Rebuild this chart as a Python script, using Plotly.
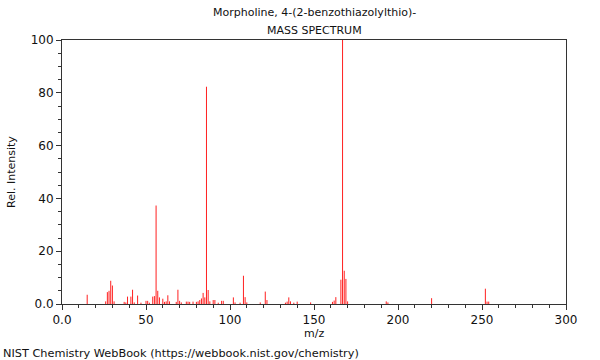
import plotly.graph_objects as go

# m/z values and relative intensities
mz = [15, 26, 27, 28, 29, 30, 31, 37, 38, 39, 41, 42, 43, 45, 47, 50, 51, 52,
      54, 55, 56, 57, 58, 60, 61, 62, 63, 64, 68, 69, 70, 71, 74, 75, 76, 78,
      80, 81, 82, 83, 84, 85, 86, 87, 88, 90, 91, 93, 95, 96, 102, 103, 106,
      108, 109, 110, 118, 121, 122, 133, 134, 135, 136, 138, 140, 148, 161,
      162, 163, 166, 167, 168, 169, 170, 193, 194, 220, 252, 253, 254]
intensity = [3.5, 1.0, 4.5, 5.0, 8.8, 7.0, 1.0, 0.8, 0.6, 2.8, 2.8, 5.4, 0.6,
             3.2, 0.5, 1.2, 1.2, 0.5, 2.8, 3.0, 37.3, 5.0, 2.5, 2.0, 0.8, 1.0,
             3.3, 1.0, 0.8, 5.4, 1.2, 0.6, 0.9, 0.9, 0.8, 0.9, 0.8, 1.0, 1.5,
             2.1, 4.2, 2.5, 82.3, 5.3, 1.0, 1.5, 1.5, 0.5, 1.2, 1.2, 2.5, 0.6,
             0.5, 10.7, 2.6, 0.6, 0.6, 4.7, 1.5, 0.5, 0.9, 2.5, 1.0, 0.5, 0.9,
             0.6, 0.8, 1.3, 2.6, 9.2, 100.0, 12.6, 9.5, 1.0, 1.0, 0.6, 2.2,
             5.8, 0.9, 0.9]

x_ticks = [0, 50, 100, 150, 200, 250, 300]
x_labels = ["0.0", "50", "100", "150", "200", "250", "300"]
y_ticks = [0, 20, 40, 60, 80, 100]
y_labels = ["0.0", "20", "40", "60", "80", "100"]

title_line1 = "Morpholine, 4-(2-benzothiazolylthio)-"
title_line2 = "MASS SPECTRUM"
footer = "NIST Chemistry WebBook (https://webbook.nist.gov/chemistry)"

# build stick segments
xs, ys = [], []
for m, v in zip(mz, intensity):
    xs += [m, m, None]
    ys += [0, v, None]

FONT = "DejaVu Sans, sans-serif"

fig = go.Figure()
fig.add_trace(go.Scatter(x=xs, y=ys, mode="lines",
                         line=dict(color="#ff2020", width=1),
                         hoverinfo="skip", showlegend=False))

axis_common = dict(showline=True, linecolor="#333333", linewidth=1, mirror=True,
                   ticks="outside", ticklen=5, tickcolor="#333333",
                   showgrid=False, zeroline=False,
                   tickfont=dict(family=FONT, size=12, color="#111111"))

fig.update_xaxes(range=[0, 300], tickvals=x_ticks, ticktext=x_labels,
                 minor=dict(dtick=10, ticks="outside", ticklen=3, tickcolor="#333333"),
                 **axis_common)
fig.update_yaxes(range=[0, 100], tickvals=y_ticks, ticktext=y_labels,
                 minor=dict(dtick=5, ticks="outside", ticklen=3, tickcolor="#333333"),
                 **axis_common)

L, R, T, B = 62, 34, 40, 56
fig.update_layout(
    width=600, height=360,
    margin=dict(l=L, r=R, t=T, b=B),
    paper_bgcolor="white", plot_bgcolor="white",
    font=dict(family=FONT, size=11, color="#111111"),
)

plot_h = 360 - T - B
plot_w = 600 - L - R
def py(pix):
    return (360 - B - pix) / plot_h
def px(pix):
    return (pix - L) / plot_w

fig.add_annotation(text=title_line1, x=0.5, xref="paper", y=py(13), yref="paper",
                   showarrow=False, xanchor="center", yanchor="middle")
fig.add_annotation(text=title_line2, x=0.5, xref="paper", y=py(30), yref="paper",
                   showarrow=False, xanchor="center", yanchor="middle")
fig.add_annotation(text="m/z", x=0.5, xref="paper", y=py(333), yref="paper",
                   showarrow=False, xanchor="center", yanchor="middle")
fig.add_annotation(text="Rel. Intensity", x=px(11), xref="paper", y=py(172), yref="paper",
                   showarrow=False, xanchor="center", yanchor="middle", textangle=-90)
fig.add_annotation(text=footer, x=px(1), xref="paper", y=py(353), yref="paper",
                   showarrow=False, xanchor="left", yanchor="middle",
                   font=dict(size=11.3))

fig.write_html("out.html", config={"displayModeBar": False},
               post_script="document.body.style.margin='0';document.body.style.padding='0';")
